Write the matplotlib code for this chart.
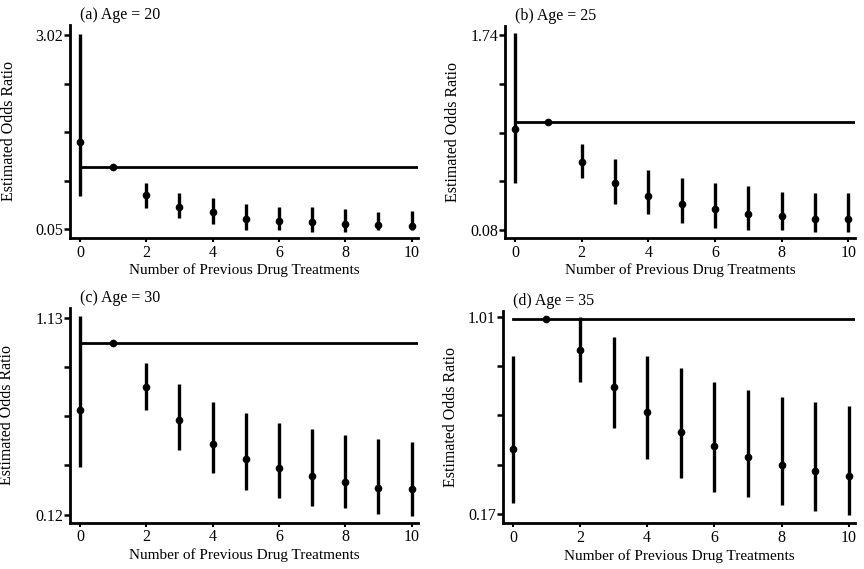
import numpy as np
import matplotlib.pyplot as plt
import matplotlib.transforms as mtransforms

plt.rcParams['font.family'] = ['Liberation Serif', 'DejaVu Serif']

treatments = np.arange(11)

# (a) Age = 20
est_a = [1.39, 1.0, 0.575, 0.386, 0.305, 0.208, 0.18, 0.152, 0.13, 0.116, 0.10]
lo_a = [0.56, 1.0, 0.37, 0.218, 0.13, 0.04, 0.04, 0.004, 0.014, 0.04, 0.04]
hi_a = [3.04, 1.0, 0.763, 0.61, 0.52, 0.437, 0.396, 0.396, 0.356, 0.31, 0.33]

# (b) Age = 25
est_b = [0.937, 1.0, 0.656, 0.483, 0.369, 0.301, 0.256, 0.213, 0.194, 0.174, 0.174]
lo_b = [0.483, 1.0, 0.526, 0.301, 0.213, 0.142, 0.094, 0.08, 0.08, 0.06, 0.06]
hi_b = [1.755, 1.0, 0.812, 0.682, 0.591, 0.52, 0.483, 0.457, 0.406, 0.392, 0.392]

# (c) Age = 30
est_c = [0.658, 1.0, 0.775, 0.604, 0.484, 0.407, 0.356, 0.317, 0.287, 0.258, 0.25]
lo_c = [0.363, 1.0, 0.655, 0.453, 0.331, 0.245, 0.206, 0.164, 0.151, 0.122, 0.11]
hi_c = [1.139, 1.0, 0.898, 0.788, 0.698, 0.641, 0.587, 0.556, 0.53, 0.505, 0.493]

# (d) Age = 35
est_d = [0.446, 1.0, 0.868, 0.712, 0.604, 0.521, 0.458, 0.411, 0.377, 0.354, 0.334]
lo_d = [0.217, 1.0, 0.733, 0.536, 0.404, 0.323, 0.266, 0.242, 0.21, 0.184, 0.167]
hi_d = [0.844, 1.0, 1.01, 0.922, 0.844, 0.79, 0.733, 0.698, 0.667, 0.649, 0.628]

titles = ['(a) Age = 20', '(b) Age = 25', '(c) Age = 30', '(d) Age = 35']
ytick_ends = [(0.05, 3.02), (0.08, 1.74), (0.12, 1.13), (0.17, 1.01)]
panels = [(est_a, lo_a, hi_a), (est_b, lo_b, hi_b), (est_c, lo_c, hi_c), (est_d, lo_d, hi_d)]

# axes boxes in figure fraction
boxes = [[0.081, 0.582, 0.403, 0.374],
         [0.5845, 0.582, 0.405, 0.372],
         [0.081, 0.0817, 0.403, 0.377],
         [0.582, 0.0808, 0.408, 0.3726]]
ylims = [(-0.083, 3.173), (0.012, 1.817), (0.079, 1.179), (0.132, 1.034)]
ylab_x = [-0.152, -0.126, -0.158, -0.123]
fs = 11.5

fig = plt.figure(figsize=(8.64, 5.69), dpi=100)

for i in range(4):
    ax = fig.add_axes(boxes[i])
    est, lo, hi = panels[i]
    est = np.array(est); lo = np.array(lo); hi = np.array(hi)
    ax.axhline(1.0, xmin=(0 + 0.3) / 10.5, xmax=1.0, color='black', lw=2.0)
    ax.vlines(treatments, lo, hi, color='black', lw=2.4)
    ax.plot(treatments, est, 'o', color='black', ms=4.5)
    ax.set_xlim(-0.3, 10.2)
    ax.set_ylim(*ylims[i])
    ymin, ymax = ytick_ends[i]
    yt = np.linspace(ymin, ymax, 5)
    ax.set_yticks(yt)
    ax.set_yticklabels([f'{ymin:.2f}', '', '', '', f'{ymax:.2f}'])
    ax.set_xticks([0, 2, 4, 6, 8, 10])
    for s in ['top', 'right']:
        ax.spines[s].set_visible(False)
    for s in ['left', 'bottom']:
        ax.spines[s].set_linewidth(2.0)
    ax.tick_params(axis='y', length=4, width=1.8, labelsize=fs, pad=1)
    ax.tick_params(axis='x', length=3, width=1.5, labelsize=fs, pad=2)
    ax.set_xlabel('Number of Previous Drug Treatments', fontsize=11, labelpad=2)
    ax.set_ylabel('Estimated Odds Ratio', fontsize=fs)
    ax.yaxis.set_label_coords(ylab_x[i], 0.5)
    trans = mtransforms.blended_transform_factory(ax.transData, ax.transAxes)
    ax.text(0, 1.01, titles[i], transform=trans, fontsize=fs, ha='left', va='bottom')

fig.savefig('out.png', dpi=100)
